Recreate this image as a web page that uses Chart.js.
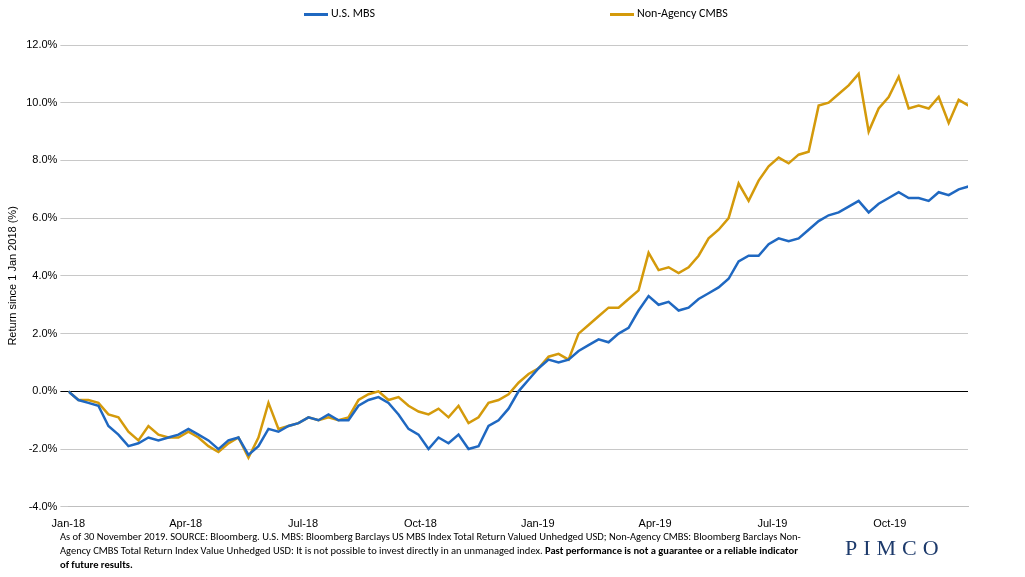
<!DOCTYPE html>
<html><head><meta charset="utf-8">
<script src="https://cdn.jsdelivr.net/npm/chart.js@4"></script>
<style>
body{margin:0;width:1025px;height:577px;overflow:hidden;background:#fff;font-family:Calibri,Carlito,"Liberation Sans",Arial,sans-serif;position:relative}
#c{position:absolute;left:0;top:0}
#note{position:absolute;left:60px;top:530px;width:745px;font-size:10.5px;line-height:14px;color:#000}
#logo{position:absolute;left:845px;top:535px;font-family:"Liberation Serif",serif;font-size:22px;letter-spacing:6px;color:#1d3a6b}
.lg{position:absolute;top:6px;font-size:12px;color:#000}
.lg span{display:inline-block;width:24px;height:3px;vertical-align:middle;margin-right:3px}
</style></head><body>
<canvas id="c" width="1025" height="577"></canvas>
<div class="lg" style="left:304px"><span style="background:#1f68c1"></span>U.S. MBS</div>
<div class="lg" style="left:610px"><span style="background:#d49a0b"></span>Non-Agency CMBS</div>
<div id="note">As of 30 November 2019. SOURCE: Bloomberg. U.S. MBS: Bloomberg Barclays US MBS Index Total Return Valued Unhedged USD; Non-Agency CMBS: Bloomberg Barclays Non-Agency CMBS Total Return Index Value Unhedged USD: It is not possible to invest directly in an unmanaged index. <b>Past performance is not a guarantee or a reliable indicator of future results.</b></div>
<div id="logo">PIMCO</div>
<script>
const tickLabels=["Jan-18","Apr-18","Jul-18","Oct-18","Jan-19","Apr-19","Jul-19","Oct-19"];
const mbs=[0,-0.3,-0.4,-0.5,-1.2,-1.5,-1.9,-1.8,-1.6,-1.7,-1.6,-1.5,-1.3,-1.5,-1.7,-2.0,-1.7,-1.6,-2.2,-1.9,-1.3,-1.4,-1.2,-1.1,-0.9,-1.0,-0.8,-1.0,-1.0,-0.5,-0.3,-0.2,-0.4,-0.8,-1.3,-1.5,-2.0,-1.6,-1.8,-1.5,-2.0,-1.9,-1.2,-1.0,-0.6,0.0,0.4,0.8,1.1,1.0,1.1,1.4,1.6,1.8,1.7,2.0,2.2,2.8,3.3,3.0,3.1,2.8,2.9,3.2,3.4,3.6,3.9,4.5,4.7,4.7,5.1,5.3,5.2,5.3,5.6,5.9,6.1,6.2,6.4,6.6,6.2,6.5,6.7,6.9,6.7,6.7,6.6,6.9,6.8,7.0,7.1];
const cmbs=[0,-0.3,-0.3,-0.4,-0.8,-0.9,-1.4,-1.7,-1.2,-1.5,-1.6,-1.6,-1.4,-1.6,-1.9,-2.1,-1.8,-1.6,-2.3,-1.6,-0.4,-1.3,-1.2,-1.1,-0.9,-1.0,-0.9,-1.0,-0.9,-0.3,-0.1,0.0,-0.3,-0.2,-0.5,-0.7,-0.8,-0.6,-0.9,-0.5,-1.1,-0.9,-0.4,-0.3,-0.1,0.3,0.6,0.8,1.2,1.3,1.1,2.0,2.3,2.6,2.9,2.9,3.2,3.5,4.8,4.2,4.3,4.1,4.3,4.7,5.3,5.6,6.0,7.2,6.6,7.3,7.8,8.1,7.9,8.2,8.3,9.9,10.0,10.3,10.6,11.0,9.0,9.8,10.2,10.9,9.8,9.9,9.8,10.2,9.3,10.1,9.9];
// observations roughly every 7.8 days; x in months since Jan 2018
const stepMonths=10/39.1;
const toPts=a=>a.map((v,i)=>({x:i*stepMonths,y:v}));
new Chart(document.getElementById('c'),{
 type:'line',
 data:{datasets:[
  {label:'U.S. MBS',data:toPts(mbs),borderColor:'#1f68c1',borderWidth:2.5,pointRadius:0,tension:0},
  {label:'Non-Agency CMBS',data:toPts(cmbs),borderColor:'#d49a0b',borderWidth:2.5,pointRadius:0,tension:0}
 ]},
 options:{responsive:false,animation:false,
  layout:{padding:{left:2,right:57,top:45,bottom:43}},
  plugins:{legend:{display:false},tooltip:{enabled:false}},
  scales:{
   x:{type:'linear',min:0,max:23,afterBuildTicks:s=>{s.ticks=tickLabels.map((_,i)=>({value:i*3}));},
      ticks:{callback:(v)=>tickLabels[v/3],color:'#000',font:{size:11},maxRotation:0,autoSkip:false},
      grid:{display:false},border:{color:'#bfbfbf'}},
   y:{min:-4,max:12,ticks:{stepSize:2,callback:v=>v.toFixed(1)+'%',color:'#000',font:{size:11}},
      title:{display:true,text:'Return since 1 Jan 2018 (%)',color:'#000',font:{size:11}},
      grid:{color:c=>c.tick.value===0?'#000':'#c8c8c8',lineWidth:1},border:{display:false}}
  }
 }
});
</script></body></html>
